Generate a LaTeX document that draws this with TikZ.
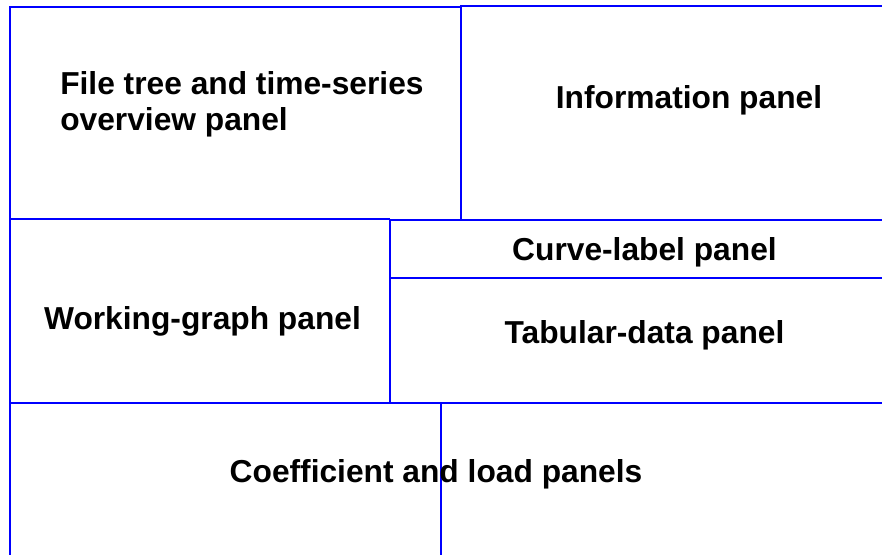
\documentclass[tikz,border=0pt]{standalone}
\usepackage{fontspec}
\setmainfont{Liberation Sans}
\begin{document}
\begin{tikzpicture}[x=0.75pt,y=-0.75pt,
  panelline/.style={draw=blue,line width=1.7pt},
  label/.style={inner sep=0pt,font=\fontsize{23.8pt}{26.8pt}\selectfont\bfseries}]
\useasboundingbox (0,0) rectangle (882,555);
% lines
\draw[panelline] (10,555) -- (10,7) -- (461,7);
\draw[panelline] (461,219) -- (461,6) -- (882,6);
\draw[panelline] (10,219) -- (390,219);
\draw[panelline] (390,220) -- (882,220);
\draw[panelline] (390,219) -- (390,403);
\draw[panelline] (390,278) -- (882,278);
\draw[panelline] (10,403) -- (882,403);
\draw[panelline] (441,403) -- (441,555);
% labels
\node[label,anchor=west,align=left] (filetree) at (60,104) {File tree and time-series\\overview panel};
\node[label] (info) at (689,100) {Information panel};
\node[label] (curve) at (644.5,252) {Curve-label panel};
\node[label] (working) at (202.5,321) {Working-graph panel};
\node[label] (tabular) at (644.5,335) {Tabular-data panel};
\node[label] (coef) at (436,474) {Coefficient and load panels};
\end{tikzpicture}
\end{document}
